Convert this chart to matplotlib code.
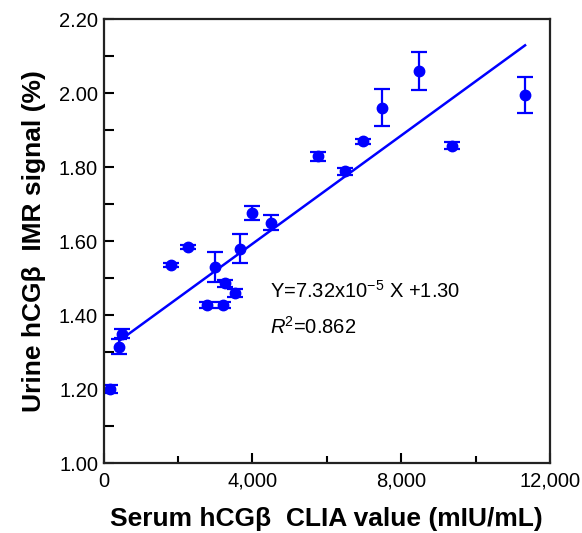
#!/usr/bin/env python3
"""
Urine hCGb IMR signal vs serum hCGb CLIA value
"""

import matplotlib
matplotlib.use('Agg')
import matplotlib.pyplot as plt
from matplotlib.ticker import MultipleLocator, FuncFormatter

# data
serum_clia = [175, 420, 500, 1815, 2270, 2780, 3000, 3210, 3270, 3535,
              3670, 3980, 4490, 5775, 6485, 6982, 7485, 8487, 9358, 11336]
urine_imr = [1.200, 1.315, 1.350, 1.535, 1.585, 1.428, 1.530, 1.428, 1.486, 1.460,
             1.580, 1.676, 1.650, 1.830, 1.789, 1.870, 1.960, 2.060, 1.858, 1.996]
imr_err = [0.010, 0.020, 0.012, 0.006, 0.006, 0.008, 0.040, 0.008, 0.010, 0.012,
           0.040, 0.018, 0.020, 0.012, 0.010, 0.006, 0.050, 0.052, 0.010, 0.049]

# linear fit given on the figure
slope = 7.32e-5
intercept = 1.30
fit_x = [450, 11330]

plt.rcParams['font.family'] = ['Liberation Sans', 'DejaVu Sans']
plt.rcParams['mathtext.fontset'] = 'custom'
plt.rcParams['mathtext.rm'] = 'Liberation Sans'
plt.rcParams['mathtext.it'] = 'Liberation Sans:italic'

blue = '#0000ff'

fig = plt.figure(figsize=(5.82, 5.33), dpi=100)
ax = fig.add_axes([0.178, 0.131, 0.767, 0.833])

ax.errorbar(serum_clia, urine_imr, yerr=imr_err, fmt='o', color=blue,
            markersize=7.5, elinewidth=1.6, capsize=6, capthick=1.6)
ax.plot(fit_x, [slope * x + intercept for x in fit_x], color=blue, lw=1.8)

ax.text(4480, 1.446, r'Y=7.32x10$^{-5}$ X +1.30', fontsize=14.5)
ax.text(4480, 1.351, r'$R$$^2$=0.862', fontsize=14.5)

ax.set_xlim(0, 12000)
ax.set_ylim(1.0, 2.2)
ax.xaxis.set_major_locator(MultipleLocator(4000))
ax.xaxis.set_minor_locator(MultipleLocator(2000))
ax.yaxis.set_major_locator(MultipleLocator(0.2))
ax.yaxis.set_minor_locator(MultipleLocator(0.1))
ax.xaxis.set_major_formatter(FuncFormatter(lambda v, p: f'{v:,.0f}'))
ax.yaxis.set_major_formatter(FuncFormatter(lambda v, p: f'{v:.2f}'))

ax.tick_params(which='both', direction='in', width=1.5, labelsize=14.5, pad=4)
ax.tick_params(axis='x', which='both', pad=6)
ax.tick_params(which='major', length=7)
ax.tick_params(which='minor', length=5)
ax.tick_params(axis='y', which='minor', length=7)
for s in ax.spines.values():
    s.set_linewidth(1.6)
    s.set_color('#222222')

ax.set_xlabel('Serum hCG\u03b2  CLIA value (mIU/mL)', fontsize=19, fontweight='bold', labelpad=12)
ax.set_ylabel('Urine hCG\u03b2  IMR signal (%)', fontsize=19, fontweight='bold', labelpad=9)

plt.savefig('out.png', dpi=100)
plt.close()
